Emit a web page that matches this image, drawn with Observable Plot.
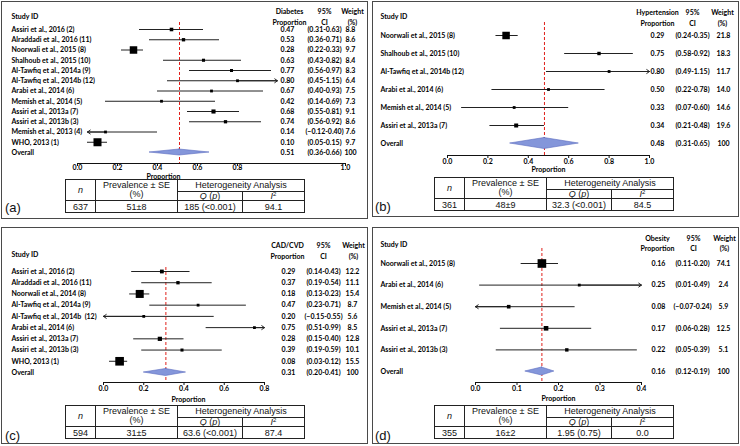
<!DOCTYPE html>
<html>
<head>
<meta charset="utf-8">
<script src="https://cdn.jsdelivr.net/npm/d3@7"></script>
<script src="https://cdn.jsdelivr.net/npm/@observablehq/plot@0.6"></script>
<style>
  html, body { margin: 0; padding: 0; background: #fff; }
  body { width: 740px; height: 446px; position: relative; overflow: hidden; }
  .box { position: absolute; border: 1.5px solid #4a4a4a; box-sizing: border-box; pointer-events: none; }
  .plotwrap { position: absolute; }
  .plotwrap svg { background: none !important; max-width: none !important; }
  .tbl { position: absolute; border-collapse: collapse; table-layout: fixed;
         font-family: "Liberation Sans", Arial, sans-serif; font-size: 9px; color: #111; }
  .tbl td { border: 1px solid #222; padding: 0; text-align: center; vertical-align: middle;
            white-space: nowrap; }
  .tbl tr.r1 td { height: 11px; line-height: 9px; }
  .tbl tr.r2 td { height: 8px; line-height: 8px; }
  .tbl tr.r3 td { height: 11px; line-height: 10px; }
  .tbl td.two { line-height: 10px; }
  .tbl i { font-style: italic; }
  .tbl sup { font-size: 6px; line-height: 0; vertical-align: 3px; }
  .tag { position: absolute; font-family: "Liberation Sans", Arial, sans-serif; font-size: 13px; color: #111; line-height: 13px; }
</style>
</head>
<body>
<script>
// ---------------- DATA ----------------
// (a) Diabetes
const diabetesStudies = ["Assiri et al., 2016 (2)", "Alraddadi et al., 2016 (11)", "Noorwali et al., 2015 (8)",
  "Shalhoub et al., 2015 (10)", "Al-Tawfiq et al., 2014a (9)", "Al-Tawfiq et al., 2014b (12)", "Arabi et al., 2014 (6)",
  "Memish et al., 2014 (5)", "Assiri et al., 2013a (7)", "Assiri et al., 2013b (3)", "Memish et al., 2013 (4)", "WHO, 2013 (1)"];
const diabetesProp   = [0.47, 0.53, 0.28, 0.63, 0.77, 0.80, 0.67, 0.42, 0.68, 0.74, 0.14, 0.10];
const diabetesLower  = [0.31, 0.36, 0.22, 0.43, 0.56, 0.45, 0.40, 0.14, 0.55, 0.56, -0.12, 0.05];
const diabetesUpper  = [0.63, 0.71, 0.33, 0.82, 0.97, 1.15, 0.93, 0.69, 0.81, 0.92, 0.40, 0.15];
const diabetesWeight = [8.8, 8.6, 9.7, 8.4, 8.3, 6.4, 7.5, 7.3, 9.1, 8.6, 7.6, 9.7];
const diabetesOverall = [0.51, 0.36, 0.66];
const diabetesTicks = [0, 0.2, 0.4, 0.6, 0.8, 1.34];
const diabetesTickLabels = ["0.0", "0.2", "0.4", "0.6", "0.8", "1.0"];
const diabetesSummary = ["637", "51±8", "185 (<0.001)", "94.1"];

// (b) Hypertension
const hypertensionStudies = ["Noorwali et al., 2015 (8)", "Shalhoub et al., 2015 (10)", "Al-Tawfiq et al., 2014b (12)",
  "Arabi et al., 2014 (6)", "Memish et al., 2014 (5)", "Assiri et al., 2013a (7)"];
const hypertensionProp   = [0.29, 0.75, 0.80, 0.50, 0.33, 0.34];
const hypertensionLower  = [0.24, 0.58, 0.49, 0.22, 0.07, 0.21];
const hypertensionUpper  = [0.35, 0.92, 1.15, 0.78, 0.60, 0.48];
const hypertensionWeight = [21.8, 18.3, 11.7, 14.0, 14.6, 19.6];
const hypertensionOverall = [0.48, 0.31, 0.65];
const hypertensionTicks = [0, 0.2, 0.4, 0.6, 0.8, 1.0];
const hypertensionTickLabels = ["0.0", "0.2", "0.4", "0.6", "0.8", "1.0"];
const hypertensionSummary = ["361", "48±9", "32.3 (<0.001)", "84.5"];

// (c) CAD/CVD
const cadStudies = ["Assiri et al., 2016 (2)", "Alraddadi et al., 2016 (11)", "Noorwali et al., 2014 (8)",
  "Al-Tawfiq et al., 2014a (9)", "Al-Tawfiq et al., 2014b  (12)", "Arabi et al., 2014 (6)",
  "Assiri et al., 2013a (7)", "Assiri et al., 2013b (3)", "WHO, 2013 (1)"];
const cadProp   = [0.29, 0.37, 0.18, 0.47, 0.20, 0.75, 0.28, 0.39, 0.08];
const cadLower  = [0.14, 0.19, 0.13, 0.23, -0.15, 0.51, 0.15, 0.19, 0.03];
const cadUpper  = [0.43, 0.54, 0.23, 0.71, 0.55, 0.99, 0.40, 0.59, 0.12];
const cadWeight = [12.2, 11.1, 15.4, 8.7, 5.6, 8.5, 12.8, 10.1, 15.5];
const cadOverall = [0.31, 0.20, 0.41];
const cadTicks = [0, 0.2, 0.4, 0.6, 0.8];
const cadTickLabels = ["0.0", "0.2", "0.4", "0.6", "0.8"];
const cadSummary = ["594", "31±5", "63.6 (<0.001)", "87.4"];

// (d) Obesity
const obesityStudies = ["Noorwali et al., 2015 (8)", "Arabi et al., 2014 (6)", "Memish et al., 2014 (5)",
  "Assiri et al., 2013a (7)", "Assiri et al., 2013b (3)"];
const obesityProp   = [0.16, 0.25, 0.08, 0.17, 0.22];
const obesityLower  = [0.11, 0.01, -0.07, 0.06, 0.05];
const obesityUpper  = [0.20, 0.49, 0.24, 0.28, 0.39];
const obesityWeight = [74.1, 2.4, 5.9, 12.5, 5.1];
const obesityOverall = [0.16, 0.12, 0.19];
const obesityTicks = [0, 0.1, 0.2, 0.3, 0.4];
const obesityTickLabels = ["0.0", "0.1", "0.2", "0.3", "0.4"];
const obesitySummary = ["355", "16±2", "1.95 (0.75)", "0.0"];

// ---------------- LAYOUT (page pixels) ----------------
const panels = [
  { tag: "(a)", header: "Diabetes\nProportion",
    studies: diabetesStudies, prop: diabetesProp, lo: diabetesLower, hi: diabetesUpper, weight: diabetesWeight,
    overall: diabetesOverall, ticks: diabetesTicks, tickLabels: diabetesTickLabels, summary: diabetesSummary,
    clip: [0.05, 1.0],
    L: { bx: 1, by: 1, bw: 367, bh: 218, xL: 77, xR: 345, frameTop: 22, axisY: 163, firstRow: 29, overallRow: 152,
         colLabel: 11, colVal: 287, colCI: 324, colW: 350, hdrStudyY: 15, hdrY: 15.5, hdrVal: 289, hdrCI: 324, hdrW: 352,
         tickY: 168, propX: 163, propY: 176, diamond: 3, tblX: 65, tblY: 179, tagX: 5, tagY: 201 } },
  { tag: "(b)", header: "Hypertension\nProportion",
    studies: hypertensionStudies, prop: hypertensionProp, lo: hypertensionLower, hi: hypertensionUpper, weight: hypertensionWeight,
    overall: hypertensionOverall, ticks: hypertensionTicks, tickLabels: hypertensionTickLabels, summary: hypertensionSummary,
    clip: [0, 1.0],
    L: { bx: 372, by: 1, bw: 367, bh: 216, xL: 447, xR: 649, frameTop: 22, axisY: 155, firstRow: 35, overallRow: 143,
         colLabel: 380, colVal: 657, colCI: 692, colW: 723, hdrStudyY: 15, hdrY: 16.5, hdrVal: 657, hdrCI: 692, hdrW: 722,
         tickY: 162, propX: 548, propY: 169, diamond: 5.5, tblX: 434, tblY: 177, tagX: 375, tagY: 200 } },
  { tag: "(c)", header: "CAD/CVD\nProportion",
    studies: cadStudies, prop: cadProp, lo: cadLower, hi: cadUpper, weight: cadWeight,
    overall: cadOverall, ticks: cadTicks, tickLabels: cadTickLabels, summary: cadSummary,
    clip: [0, 0.8],
    L: { bx: 1, by: 227, bw: 367, bh: 217, xL: 103, xR: 264, frameTop: 267, axisY: 382, firstRow: 271, overallRow: 372,
         colLabel: 11, colVal: 288, colCI: 323, colW: 352, hdrStudyY: 253, hdrY: 249.5, hdrVal: 287, hdrCI: 323, hdrW: 353,
         tickY: 389, propX: 188, propY: 399, diamond: 3.5, tblX: 65, tblY: 405, tagX: 5, tagY: 429 } },
  { tag: "(d)", header: "Obesity\nProportion",
    studies: obesityStudies, prop: obesityProp, lo: obesityLower, hi: obesityUpper, weight: obesityWeight,
    overall: obesityOverall, ticks: obesityTicks, tickLabels: obesityTickLabels, summary: obesitySummary,
    clip: [0, 0.4],
    L: { bx: 372, by: 227, bw: 367, bh: 217, xL: 475, xR: 641, frameTop: 248, axisY: 382, firstRow: 263, overallRow: 371,
         colLabel: 380, colVal: 658, colCI: 692, colW: 723, hdrStudyY: 243, hdrY: 242, hdrVal: 657, hdrCI: 693, hdrW: 724,
         tickY: 389, propX: 558, propY: 398, diamond: 4, tblX: 434, tblY: 405, tagX: 375, tagY: 429 } }
];

const fmt2 = d3.format(".2f");
const FONT = 7;

function forest(p) {
  const L = p.L;
  const n = p.studies.length;
  const W = L.bw - 2, H = 180;
  const ox = L.bx + 1, oy = L.by + 1;
  const [c0, c1] = p.clip;
  const rows = p.studies.map((name, i) => {
    const lo = p.lo[i], hi = p.hi[i];
    const side = Math.max(2.8, Math.min(9, 1.6 * Math.pow(1 / (hi - lo), 0.7)));
    return { i, name, est: p.prop[i], lo, hi, lo2: Math.max(lo, c0), hi2: Math.min(hi, c1),
             r: side / Math.sqrt(Math.PI), wtxt: p.weight[i].toFixed(1) };
  });
  const ov = { i: n, name: "Overall", est: p.overall[0], lo: p.overall[1], hi: p.overall[2], wtxt: "100" };
  const all = [...rows, ov];
  const rowPx = (L.overallRow - L.firstRow) / n;
  const dh = L.diamond / rowPx;
  const diamond = [
    { y: n - dh, x1: ov.est, x2: ov.est },
    { y: n, x1: ov.lo, x2: ov.hi },
    { y: n + dh, x1: ov.est, x2: ov.est }
  ];
  const tickMap = new Map(p.ticks.map((t, i) => [t, p.tickLabels[i]]));
  const tickPad = (L.tickY - L.axisY) - 3 - FONT / 2;
  const colText = (x) => ({ y: "i", frameAnchor: "left", dx: x - L.xL, lineAnchor: "middle" });
  const hdr = (x, extra) => ({ frameAnchor: "top-left", dx: x - L.xL, lineHeight: 1.55, lineAnchor: "middle", ...extra });

  const svg = Plot.plot({
    width: W, height: H,
    marginLeft: L.xL - ox, marginRight: W - (L.xR - ox),
    marginTop: L.frameTop - oy, marginBottom: H - (L.axisY - oy),
    x: { domain: [0, p.ticks[p.ticks.length - 1]] },
    y: { type: "linear", domain: [0, n], range: [L.firstRow - oy, L.overallRow - oy], axis: null },
    r: { type: "identity" },
    style: { fontFamily: "Lato, 'Open Sans', sans-serif", fontSize: FONT + "px", fontWeight: "bold", color: "#000", background: "none", overflow: "visible" },
    marks: [
      Plot.ruleX([ov.est], { stroke: "#e0201b", strokeDasharray: "3,2", strokeWidth: 1 }),
      Plot.frame({ anchor: "bottom", stroke: "#111", strokeWidth: 1 }),
      Plot.axisX({ ticks: p.ticks, tickFormat: d => tickMap.get(d), tickSize: 3, tickPadding: tickPad, label: null, stroke: "#111" }),
      Plot.ruleY(rows, { y: "i", x1: "lo2", x2: "hi2", stroke: "#222", strokeWidth: 1 }),
      Plot.arrow(rows.filter(d => d.hi > c1), { x1: "est", x2: "hi2", y1: "i", y2: "i", headLength: 5, headAngle: 70, stroke: "#222", strokeWidth: 1 }),
      Plot.arrow(rows.filter(d => d.lo < c0), { x1: "est", x2: "lo2", y1: "i", y2: "i", headLength: 5, headAngle: 70, stroke: "#222", strokeWidth: 1 }),
      Plot.dot(rows, { x: "est", y: "i", r: "r", symbol: "square", fill: "#000", stroke: "none" }),
      Plot.areaX(diamond, { y: "y", x1: "x1", x2: "x2", fill: "#8496da", stroke: "#5a6cc0", strokeWidth: 0.6 }),
      Plot.text(all, { ...colText(L.colLabel), text: "name", textAnchor: "start" }),
      Plot.text(all, { ...colText(L.colVal), text: d => fmt2(d.est), textAnchor: "middle" }),
      Plot.text(all, { ...colText(L.colCI), text: d => `(${fmt2(d.lo)}-${fmt2(d.hi)})`, textAnchor: "middle" }),
      Plot.text(all, { ...colText(L.colW), text: "wtxt", textAnchor: "middle" }),
      Plot.text(["Study ID"], hdr(L.colLabel, { text: d => d, textAnchor: "start", dy: L.hdrStudyY - L.frameTop })),
      Plot.text([p.header], hdr(L.hdrVal, { text: d => d, textAnchor: "middle", dy: L.hdrY - L.frameTop })),
      Plot.text(["95%\nCI"], hdr(L.hdrCI, { text: d => d, textAnchor: "middle", dy: L.hdrY - L.frameTop })),
      Plot.text(["Weight\n(%)"], hdr(L.hdrW, { text: d => d, textAnchor: "middle", dy: L.hdrY - L.frameTop })),
      Plot.text(["Proportion"], { frameAnchor: "bottom", lineAnchor: "middle", text: d => d, dx: L.propX - (L.xL + L.xR) / 2, dy: L.propY - L.axisY })
    ]
  });
  const wrap = document.createElement("div");
  wrap.className = "plotwrap";
  wrap.style.left = ox + "px";
  wrap.style.top = oy + "px";
  wrap.appendChild(svg);
  document.body.appendChild(wrap);
}

function table(p) {
  const L = p.L;
  const t = document.createElement("table");
  t.className = "tbl";
  t.style.left = L.tblX + "px";
  t.style.top = L.tblY + "px";
  const s = p.summary;
  t.innerHTML =
    `<colgroup><col style="width:30px"><col style="width:82px"><col style="width:65px"><col style="width:62px"></colgroup>` +
    `<tr class="r1"><td rowspan="2"><i>n</i></td><td rowspan="2" class="two">Prevalence ± SE<br>(%)</td><td colspan="2">Heterogeneity Analysis</td></tr>` +
    `<tr class="r2"><td><i>Q</i> (<i>p</i>)</td><td><i>I</i><sup>2</sup></td></tr>` +
    `<tr class="r3"><td>${s[0]}</td><td>${s[1]}</td><td>${s[2]}</td><td>${s[3]}</td></tr>`;
  document.body.appendChild(t);
}

for (const p of panels) {
  const L = p.L;
  const box = document.createElement("div");
  box.className = "box";
  Object.assign(box.style, { left: L.bx + "px", top: L.by + "px", width: L.bw + "px", height: L.bh + "px" });
  document.body.appendChild(box);
  forest(p);
  table(p);
  const tag = document.createElement("div");
  tag.className = "tag";
  tag.textContent = p.tag;
  tag.style.left = L.tagX + "px";
  tag.style.top = L.tagY + "px";
  document.body.appendChild(tag);
}
</script>
</body>
</html>
